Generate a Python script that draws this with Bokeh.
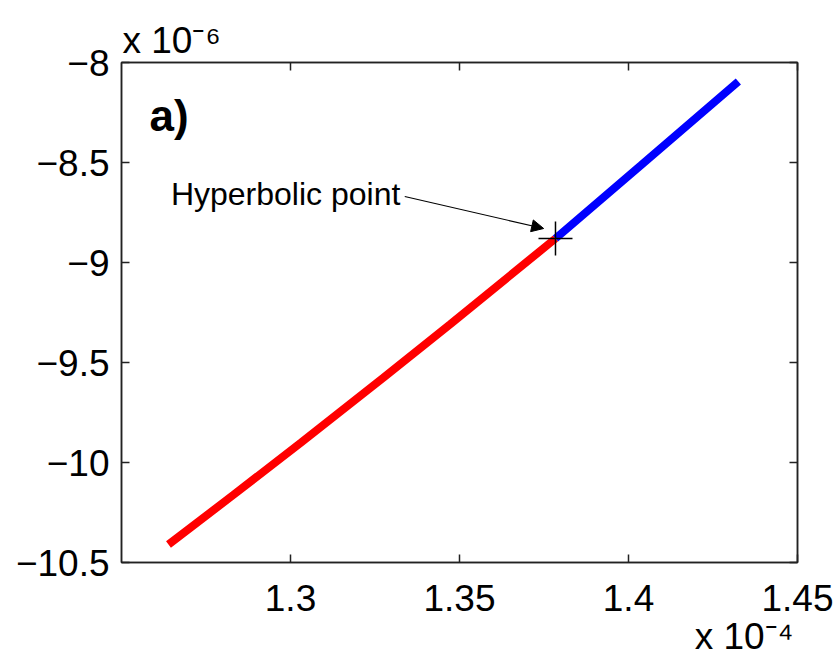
from bokeh.plotting import figure
from bokeh.models import (ColumnDataSource, FixedTicker, LinearAxis, Label,
                          Arrow, NormalHead, Range1d, Title)
from bokeh.embed import file_html
from bokeh.resources import INLINE

# Values are in scaled units: x in units of 1e-4, y in units of 1e-6
red_x = [1.2639, 1.2831, 1.3030, 1.3275, 1.3473, 1.3784]
red_y = [-10.41, -10.162, -9.902, -9.576, -9.308, -8.88]
blue_x = [1.3784, 1.4036, 1.4325]
blue_y = [-8.88, -8.515, -8.095]
point_x = [1.3784]
point_y = [-8.88]

x_ticks = [1.3, 1.35, 1.4, 1.45]
y_ticks = [-10.5, -10, -9.5, -9, -8.5, -8]
x_tick_labels = ["1.3", "1.35", "1.4", "1.45"]
y_tick_labels = ["\u221210.5", "\u221210", "\u22129.5", "\u22129", "\u22128.5", "\u22128"]
x_multiplier = "x 10\u207b\u2074"
y_multiplier = "x 10\u207b\u2076"

FONT = "Liberation Sans"
AXIS_COLOR = "#222222"

p = figure(frame_width=676, frame_height=500,
           x_range=Range1d(1.25, 1.45), y_range=Range1d(-10.5, -8),
           output_backend="svg", toolbar_location=None,
           min_border_left=121, min_border_right=39,
           min_border_top=62, min_border_bottom=99,
           background_fill_color="white", border_fill_color="white")
p.xgrid.visible = False
p.ygrid.visible = False
p.outline_line_color = AXIS_COLOR
p.outline_line_width = 1.5
p.outline_line_alpha = 1.0


def style_axis(ax, ticks, labels, standoff):
    ax.ticker = FixedTicker(ticks=ticks)
    ax.major_label_overrides = dict(zip(ticks, labels))
    ax.minor_tick_line_color = None
    ax.major_tick_in = 8
    ax.major_tick_out = 0
    ax.major_tick_line_color = AXIS_COLOR
    ax.major_tick_line_width = 1.5
    ax.axis_line_color = AXIS_COLOR
    ax.axis_line_width = 1.5
    ax.major_label_text_font = FONT
    ax.major_label_text_color = "black"
    ax.major_label_text_font_size = "37px"
    ax.major_label_standoff = standoff


style_axis(p.xaxis[0], x_ticks, x_tick_labels, 22)
style_axis(p.yaxis[0], y_ticks, y_tick_labels, 12)

# mirrored tick marks on the top and right edges (no labels)
top_axis = LinearAxis()
right_axis = LinearAxis()
style_axis(top_axis, x_ticks, [""] * len(x_ticks), 0)
style_axis(right_axis, y_ticks, [""] * len(y_ticks), 0)
p.add_layout(top_axis, "above")
p.add_layout(right_axis, "right")

# exponent multipliers: above the y axis and under the right end of the x axis
p.add_layout(Title(text=y_multiplier, align="left", offset=1, standoff=4,
                   text_font=FONT, text_font_size="37px",
                   text_font_style="normal", text_color="black"), "above")
p.add_layout(Title(text=x_multiplier, align="right", offset=4, standoff=0,
                   text_font=FONT, text_font_size="37px",
                   text_font_style="normal", text_color="black"), "below")

# the two branches of the curve
p.line(x="x", y="y", source=ColumnDataSource(dict(x=red_x, y=red_y)),
       line_color="#ff0000", line_width=8)
p.line(x="x", y="y", source=ColumnDataSource(dict(x=blue_x, y=blue_y)),
       line_color="#0000ff", line_width=8)

# hyperbolic point marker
p.scatter(x=point_x, y=point_y, marker="cross", size=34,
          line_color="black", line_width=1.5)

# annotation with arrow
p.add_layout(Label(x=1.3325, y=-8.655, text="Hyperbolic point",
                   text_align="right", text_baseline="middle",
                   text_font=FONT, text_font_size="32px", text_color="black"))
p.add_layout(Arrow(x_start=1.3338, y_start=-8.67, x_end=1.3749, y_end=-8.83,
                   line_color="black", line_width=1.2,
                   end=NormalHead(size=12, fill_color="black",
                                  line_color="black", line_width=1)))

# panel tag
p.add_layout(Label(x=1.2583, y=-8.265, text="a)", text_align="left",
                   text_baseline="alphabetic", text_font=FONT,
                   text_font_size="44px", text_font_style="bold",
                   text_color="black"))

open("out.html", "w").write(file_html(p, INLINE))
